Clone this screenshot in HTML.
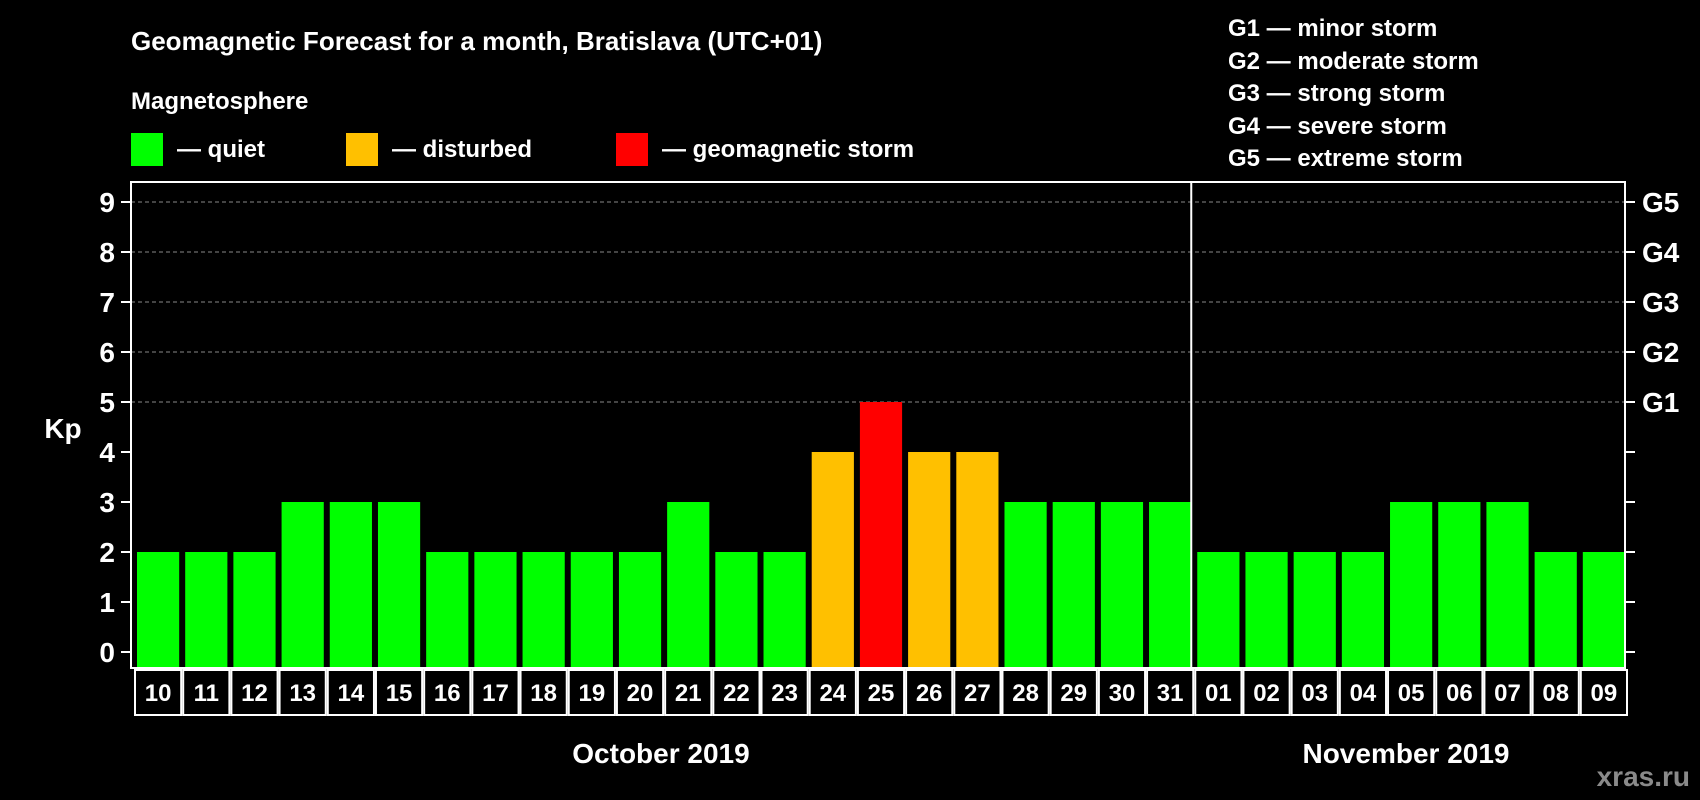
<!DOCTYPE html>
<html><head><meta charset="utf-8"><style>
html,body{margin:0;padding:0;background:#000;}
svg{display:block;font-family:"Liberation Sans",Arial,sans-serif;font-weight:bold;}
</style></head><body>
<svg id="chart" width="1700" height="800" viewBox="0 0 1700 800">
<rect width="1700" height="800" fill="#000"/>
<text x="131" y="50" fill="#fff" font-size="26">Geomagnetic Forecast for a month, Bratislava (UTC+01)</text>
<text x="131" y="109" fill="#fff" font-size="24">Magnetosphere</text>
<g><rect x="131" y="133" width="32" height="33" fill="#00ff00"/><text x="177" y="157" fill="#fff" font-size="24">— quiet</text></g>
<g><rect x="346" y="133" width="32" height="33" fill="#ffc000"/><text x="392" y="157" fill="#fff" font-size="24">— disturbed</text></g>
<g><rect x="616" y="133" width="32" height="33" fill="#ff0000"/><text x="662" y="157" fill="#fff" font-size="24">— geomagnetic storm</text></g>
<g fill="#fff" font-size="24">
<text x="1228" y="36">G1 — minor storm</text>
<text x="1228" y="69">G2 — moderate storm</text>
<text x="1228" y="101">G3 — strong storm</text>
<text x="1228" y="134">G4 — severe storm</text>
<text x="1228" y="166">G5 — extreme storm</text>
</g>
<text x="63" y="438" fill="#fff" font-size="28" text-anchor="middle">Kp</text>
<text x="661" y="763" fill="#fff" font-size="28" text-anchor="middle">October 2019</text>
<text x="1406" y="763" fill="#fff" font-size="28" text-anchor="middle">November 2019</text>
<text x="1690" y="786" fill="#8a8a8a" font-size="28" text-anchor="end">xras.ru</text>
<g id="plot"></g>
</svg>
<script>
const days=["10","11","12","13","14","15","16","17","18","19","20","21","22","23","24","25","26","27","28","29","30","31","01","02","03","04","05","06","07","08","09"];
const kpValues=[2,2,2,3,3,3,2,2,2,2,2,3,2,2,4,5,4,4,3,3,3,3,2,2,2,2,3,3,3,2,2];
const yTicks=[0,1,2,3,4,5,6,7,8,9];
const gLabels=["G1","G2","G3","G4","G5"];
const gLevels=[5,6,7,8,9];
const octCount=22;

const NS="http://www.w3.org/2000/svg";
const L=131,R=1625,T=182,B=668,Y0=652,UNIT=50;
const slot=(R-L)/days.length;
const y=v=>Y0-v*UNIT;
const x=i=>L+i*slot;
const plot=document.getElementById('plot');
function mk(tag,attrs,parent){const e=document.createElementNS(NS,tag);for(const k in attrs)e.setAttribute(k,attrs[k]);(parent||plot).appendChild(e);return e;}
function color(v){return v>=5?'#ff0000':(v>=4?'#ffc000':'#00ff00');}

gLevels.forEach((lv,i)=>{
  const g=mk('line',{x1:L,x2:R,y1:y(lv),y2:y(lv),stroke:'#888','stroke-dasharray':'4,3','stroke-width':1});
  
  
  const t=mk('text',{x:1642,y:y(lv)+10,fill:'#fff','font-size':28});
  t.textContent=gLabels[i];
  
  
});
yTicks.forEach(v=>{
  const tk=mk('line',{x1:121,x2:L,y1:y(v),y2:y(v),stroke:'#fff','stroke-width':2});
  
  
  const tr=mk('line',{x1:R,x2:1635,y1:y(v),y2:y(v),stroke:'#fff','stroke-width':2});
  
  
  const t=mk('text',{x:115,y:y(v)+10,fill:'#fff','font-size':28,'text-anchor':'end'});
  t.textContent=v;
  
  
});
kpValues.forEach((v,i)=>{
  const b=mk('rect',{x:x(i)+6,y:y(v),width:slot-6,height:B-y(v),fill:color(v)});
  
  
  const c=mk('rect',{x:x(i)+4,y:670,width:slot-2,height:45,fill:'none',stroke:'#fff','stroke-width':2});
  
  
  const t=mk('text',{x:x(i)+3+slot/2,y:701,fill:'#fff','font-size':24,'text-anchor':'middle'});
  t.textContent=days[i];
  
  
});
const frame=mk('rect',{x:L,y:T,width:R-L,height:B-T,fill:'none',stroke:'#fff','stroke-width':2});


const div=mk('line',{x1:x(octCount),x2:x(octCount),y1:T,y2:B,stroke:'#fff','stroke-width':2});


</script>
</body></html>
